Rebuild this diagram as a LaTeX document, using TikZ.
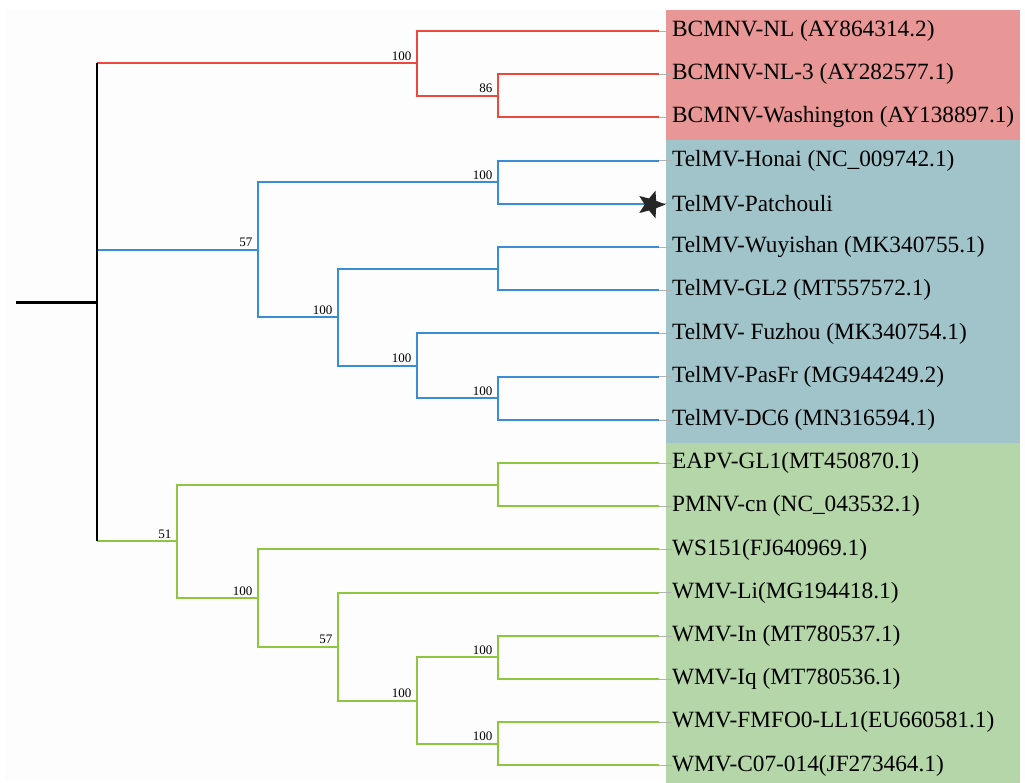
\documentclass[tikz,border=0pt]{standalone}
\usepackage{fontspec}
\setmainfont{Liberation Serif}
\usetikzlibrary{shapes.geometric}
\definecolor{tred}{RGB}{236,72,60}
\definecolor{tblue}{RGB}{58,141,212}
\definecolor{tgreen}{RGB}{141,198,63}
\definecolor{bred}{RGB}{232,150,150}
\definecolor{bblue}{RGB}{161,196,202}
\definecolor{bgreen}{RGB}{181,214,168}
\definecolor{bgpage}{RGB}{253,253,253}
\tikzset{
  br/.style={line width=2pt},
  bs/.style={anchor=south east, inner sep=1.5pt, xshift=-4pt, yshift=1pt, font=\fontsize{13}{14}\selectfont},
  leaf/.style={anchor=west, inner sep=0pt, font=\fontsize{23.3}{25}\selectfont},
  tick/.style={gray!60, line width=0.6pt}
}
\begin{document}
\begin{tikzpicture}[x=1pt,y=-1pt]
\useasboundingbox (0,0) rectangle (1025,783);
\fill[white] (0,0) rectangle (1025,783);
\fill[bgpage] (5,9) rectangle (1025,781);
\fill[bred] (666,10) rectangle (1020,140);
\fill[bblue] (666,140) rectangle (1020,443);
\fill[bgreen] (666,443) rectangle (1020,783);
% leaf tips and labels
\foreach \i/\name/\txt in {
 0/l0/{BCMNV-NL (AY864314.2)},
 1/l1/{BCMNV-NL-3 (AY282577.1)},
 2/l2/{BCMNV-Washington (AY138897.1)},
 3/l3/{TelMV-Honai (NC\_009742.1)},
 4/l4/{TelMV-Patchouli},
 5/l5/{TelMV-Wuyishan (MK340755.1)},
 6/l6/{TelMV-GL2 (MT557572.1)},
 7/l7/{TelMV- Fuzhou (MK340754.1)},
 8/l8/{TelMV-PasFr (MG944249.2)},
 9/l9/{TelMV-DC6 (MN316594.1)},
 10/l10/{EAPV-GL1(MT450870.1)},
 11/l11/{PMNV-cn (NC\_043532.1)},
 12/l12/{WS151(FJ640969.1)},
 13/l13/{WMV-Li(MG194418.1)},
 14/l14/{WMV-In (MT780537.1)},
 15/l15/{WMV-Iq (MT780536.1)},
 16/l16/{WMV-FMFO0-LL1(EU660581.1)},
 17/l17/{WMV-C07-014(JF273464.1)}}{
  \coordinate (t\name) at (659,31+43.2*\i);
  \node[leaf] (\name) at (672,31+43.2*\i) {\txt};
  \draw[tick] (t\name) -- (\name.west);
}
% internal nodes
\coordinate (R2) at (498,95.8);
\coordinate (R1) at (417,63.4);
\coordinate (B1) at (498,182.2);
\coordinate (B2) at (498,268.6);
\coordinate (B3) at (498,398.2);
\coordinate (B4) at (417,365.8);
\coordinate (B5) at (338,317.2);
\coordinate (B6) at (258,249.7);
\coordinate (G1) at (498,484.6);
\coordinate (G2) at (498,657.4);
\coordinate (G3) at (498,743.8);
\coordinate (G4) at (417,700.6);
\coordinate (G5) at (338,646.6);
\coordinate (G6) at (258,598);
\coordinate (G7) at (177,541.3);
\coordinate (rtop) at (97,63.4);
\coordinate (rmid) at (97,249.7);
\coordinate (rbot) at (97,541.3);
\coordinate (root) at (97,302.35);
\coordinate (stub) at (16,302.35);
% red clade
\draw[br,tred] (rtop) -- (R1);
\draw[br,tred] (R1) |- (tl0);
\draw[br,tred] (R1) |- (R2);
\draw[br,tred] (R2) |- (tl1);
\draw[br,tred] (R2) |- (tl2);
% blue clade
\draw[br,tblue] (rmid) -- (B6);
\draw[br,tblue] (B6) |- (B1);
\draw[br,tblue] (B6) |- (B5);
\draw[br,tblue] (B1) |- (tl3);
\draw[br,tblue] (B1) |- (tl4);
\draw[br,tblue] (B5) |- (B2);
\draw[br,tblue] (B5) |- (B4);
\draw[br,tblue] (B2) |- (tl5);
\draw[br,tblue] (B2) |- (tl6);
\draw[br,tblue] (B4) |- (tl7);
\draw[br,tblue] (B4) |- (B3);
\draw[br,tblue] (B3) |- (tl8);
\draw[br,tblue] (B3) |- (tl9);
% green clade
\draw[br,tgreen] (rbot) -- (G7);
\draw[br,tgreen] (G7) |- (G1);
\draw[br,tgreen] (G7) |- (G6);
\draw[br,tgreen] (G1) |- (tl10);
\draw[br,tgreen] (G1) |- (tl11);
\draw[br,tgreen] (G6) |- (tl12);
\draw[br,tgreen] (G6) |- (G5);
\draw[br,tgreen] (G5) |- (tl13);
\draw[br,tgreen] (G5) |- (G4);
\draw[br,tgreen] (G4) |- (G2);
\draw[br,tgreen] (G4) |- (G3);
\draw[br,tgreen] (G2) |- (tl14);
\draw[br,tgreen] (G2) |- (tl15);
\draw[br,tgreen] (G3) |- (tl16);
\draw[br,tgreen] (G3) |- (tl17);
% root
\draw[line width=2.4pt,black] (rtop) -- (rbot);
\draw[line width=2.4pt,black] (stub) -- (root);
% bootstrap values
\node[bs] (bR1) at (R1) {100};
\node[bs] (bR2) at (R2) {86};
\node[bs] (bB1) at (B1) {100};
\node[bs] (bB3) at (B3) {100};
\node[bs] (bB4) at (B4) {100};
\node[bs] (bB5) at (B5) {100};
\node[bs] (bB6) at (B6) {57};
\node[bs] (bG2) at (G2) {100};
\node[bs] (bG3) at (G3) {100};
\node[bs] (bG4) at (G4) {100};
\node[bs] (bG5) at (G5) {57};
\node[bs] (bG6) at (G6) {100};
\node[bs] (bG7) at (G7) {51};
% star
\node[star, star points=5, star point ratio=2.3, fill=black!85, minimum size=29pt, inner sep=0pt, rotate=-18] (star) at (651,204.5) {};
\end{tikzpicture}
\end{document}
